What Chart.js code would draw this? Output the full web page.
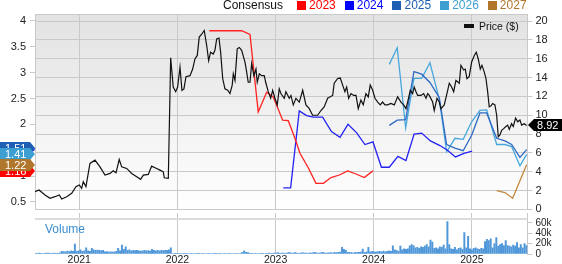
<!DOCTYPE html>
<html>
<head>
<meta charset="utf-8">
<title>Price &amp; Consensus</title>
<script src="https://cdn.jsdelivr.net/npm/chart.js@4.4.1/dist/chart.umd.min.js"></script>
<style>
  html, body { margin: 0; padding: 0; background: #fff; }
  #wrap { position: relative; width: 562px; height: 264px; overflow: hidden;
          font-family: "Liberation Sans", Arial, sans-serif; color: #222; }
  canvas { position: absolute; left: 0; }
  #priceCanvas { top: 0; width: 562px; height: 220px; }
  #volCanvas { top: 205px; width: 562px; height: 59px; }
  #legend { position: absolute; left: 223px; top: -2px; height: 14px; display: flex;
            align-items: center; font-size: 12px; white-space: nowrap; }
  #legend .title { margin-right: 14px; color: #111; }
  #legend .item { display: flex; align-items: center; margin-right: 9px; }
  #legend .item i { display: inline-block; width: 9px; height: 9px; margin-right: 3px; }
  #priceKey { position: absolute; left: 464px; top: 20px; height: 12px; display: flex;
              align-items: center; font-size: 10.5px; color: #111; white-space: nowrap; }
  #priceKey i { display: inline-block; width: 10px; height: 4px; background: #111; margin-right: 5px; }
  #volTitle { position: absolute; left: 45px; top: 223px; font-size: 12px; line-height: 12px; color: #3c8dd0; }
</style>
</head>
<body>
<div id="wrap">
  <canvas id="priceCanvas" width="562" height="220"></canvas>
  <canvas id="volCanvas" width="562" height="59"></canvas>
  <div id="legend"><span class="title">Consensus</span></div>
  <div id="priceKey"><i></i><span>Price ($)</span></div>
  <div id="volTitle">Volume</div>
</div>
<script>
// x range (decimal years)
const xMin = 2020.549, xMax = 2025.566;

// Price ($), weekly-ish closes
const priceX = [
  2020.549, 2020.590, 2020.651, 2020.702, 2020.752, 2020.796, 2020.821, 2020.872, 2020.923, 2020.966,
  2021.000, 2021.024, 2021.041, 2021.068, 2021.109, 2021.160, 2021.211, 2021.262, 2021.313, 2021.346,
  2021.374, 2021.407, 2021.432, 2021.483, 2021.534, 2021.585, 2021.625, 2021.652, 2021.703, 2021.737,
  2021.788, 2021.822, 2021.856, 2021.866, 2021.907, 2021.931, 2021.957, 2021.982, 2022.002, 2022.026,
  2022.046, 2022.066, 2022.087, 2022.128, 2022.155, 2022.179, 2022.202, 2022.222, 2022.247, 2022.273,
  2022.298, 2022.318, 2022.338, 2022.365, 2022.382, 2022.400, 2022.423, 2022.440, 2022.461, 2022.484,
  2022.512, 2022.535, 2022.558, 2022.569, 2022.586, 2022.609, 2022.630, 2022.654, 2022.688, 2022.705,
  2022.721, 2022.739, 2022.756, 2022.779, 2022.800, 2022.813, 2022.834, 2022.858, 2022.884, 2022.899,
  2022.925, 2022.950, 2022.970, 2022.993, 2023.017, 2023.037, 2023.054, 2023.088, 2023.105, 2023.139,
  2023.156, 2023.180, 2023.207, 2023.241, 2023.276, 2023.309, 2023.343, 2023.377, 2023.428, 2023.462,
  2023.496, 2023.530, 2023.581, 2023.597, 2023.632, 2023.659, 2023.683, 2023.706, 2023.724, 2023.744,
  2023.768, 2023.795, 2023.819, 2023.842, 2023.869, 2023.893, 2023.920, 2023.944, 2023.964, 2023.989,
  2024.012, 2024.040, 2024.066, 2024.090, 2024.114, 2024.141, 2024.175, 2024.209, 2024.243, 2024.277,
  2024.304, 2024.328, 2024.345, 2024.372, 2024.396, 2024.412, 2024.430, 2024.447, 2024.481, 2024.508,
  2024.532, 2024.549, 2024.565, 2024.600, 2024.616, 2024.644, 2024.667, 2024.684, 2024.718, 2024.753,
  2024.769, 2024.793, 2024.814, 2024.837, 2024.871, 2024.888, 2024.916, 2024.932, 2024.949, 2024.972,
  2024.997, 2025.024, 2025.044, 2025.064, 2025.085, 2025.102, 2025.125, 2025.143, 2025.160, 2025.176,
  2025.194, 2025.211, 2025.234, 2025.252, 2025.268, 2025.285, 2025.303, 2025.326, 2025.346, 2025.364,
  2025.380, 2025.404, 2025.421, 2025.445, 2025.466, 2025.489, 2025.506, 2025.533, 2025.557
];
const priceY = [
  1.88, 2.06, 1.53, 1.18, 1.35, 1.53, 1.11, 1.35, 1.71, 2.41,
  2.59, 2.24, 2.94, 2.41, 4.88, 5.23, 4.52, 3.64, 3.82, 4.10,
  3.89, 5.30, 4.52, 4.35, 3.82, 3.46, 3.19, 3.64, 3.72, 4.59,
  4.35, 4.17, 3.99, 3.36, 3.29, 16.1, 13.0, 12.5, 13.0, 15.1,
  12.65, 12.8, 14.1, 14.2, 14.9, 16.0, 16.35, 18.3, 18.6, 19.0,
  17.4, 15.8, 16.7, 16.5, 16.9, 18.1, 18.2, 16.7, 13.9, 12.8,
  12.65, 12.3, 13.2, 14.4, 13.7, 17.05, 17.2, 16.9, 15.65, 14.6,
  13.5, 13.5, 15.5, 14.2, 14.9, 13.5, 14.4, 14.2, 14.2, 13.5,
  12.5, 11.8, 12.65, 11.8, 11.1, 12.8, 12.3, 11.8, 12.5, 11.8,
  12.1, 11.1, 11.8, 11.4, 12.65, 11.1, 10.7, 10.0, 10.0, 10.5,
  10.9, 11.8, 12.1, 13.4, 13.9, 13.95, 13.2, 12.5, 13.0, 11.8,
  12.3, 12.1, 12.1, 10.7, 11.6, 11.1, 12.3, 11.95, 13.2, 12.65,
  11.8, 11.4, 11.1, 11.4, 11.1, 11.1, 11.25, 11.1, 11.95, 11.4,
  11.1, 10.7, 11.4, 12.65, 12.3, 13.0, 12.5, 12.1, 12.1, 12.3,
  11.8, 12.3, 12.1, 11.4, 10.5, 11.8, 11.4, 10.7, 11.1, 12.65,
  13.4, 13.0, 12.5, 13.7, 13.4, 15.3, 14.8, 14.9, 13.9, 14.1,
  15.65, 16.35, 16.7, 16.0, 14.9, 15.3, 14.6, 13.9, 12.5, 10.9,
  11.0, 11.25, 11.1, 10.0, 7.7, 7.9, 8.4, 8.6, 8.8, 8.95,
  8.5, 9.1, 8.8, 9.7, 9.3, 9.5, 8.95, 9.1, 8.92
];

// EPS consensus by fiscal year (left axis)
const consYears = ['2023', '2024', '2025', '2026', '2027'];
const cons2023X = [2022.324, 2022.654, 2022.739, 2022.823, 2022.909, 2022.976, 2023.072, 2023.129, 2023.197, 2023.248,
                   2023.330, 2023.411, 2023.487, 2023.564, 2023.650, 2023.734, 2023.819, 2023.903, 2023.992];
const cons2023Y = [3.81, 3.81, 3.74, 2.24, 2.62, 2.53, 2.08, 2.07, 1.73, 1.44,
                   1.17, 0.86, 0.86, 0.97, 1.02, 1.10, 1.04, 0.97, 1.10];
const cons2024X = [2023.078, 2023.153, 2023.241, 2023.316, 2023.384, 2023.479, 2023.569, 2023.656, 2023.737, 2023.824,
                   2023.910, 2023.992, 2024.078, 2024.158, 2024.246, 2024.328, 2024.411, 2024.488, 2024.577, 2024.674,
                   2024.751, 2024.832, 2024.919, 2025.002];
const cons2024Y = [0.77, 0.77, 2.26, 2.17, 2.14, 2.14, 1.86, 1.75, 2.00, 1.84,
                   1.61, 1.66, 1.17, 1.17, 1.38, 1.30, 1.81, 1.83, 1.68, 1.59,
                   1.50, 1.37, 1.44, 1.48];
const cons2025X = [2024.158, 2024.239, 2024.325, 2024.409, 2024.488, 2024.572, 2024.667, 2024.742, 2024.827, 2024.911,
                   2024.997, 2025.082, 2025.150, 2025.252, 2025.336, 2025.404, 2025.489, 2025.557];
const cons2025Y = [1.98, 2.08, 2.09, 3.02, 2.97, 2.81, 2.52, 1.61, 1.54, 1.49,
                   1.79, 2.22, 2.22, 1.73, 1.68, 1.61, 1.36, 1.51];
const cons2026X = cons2025X;
const cons2026Y = [3.16, 3.48, 1.93, 2.89, 2.89, 3.19, 2.49, 1.47, 1.73, 1.71,
                   2.05, 2.27, 2.28, 1.61, 1.61, 1.57, 1.20, 1.42];
const cons2027X = [2025.252, 2025.336, 2025.415, 2025.557];
const cons2027Y = [0.72, 0.68, 0.57, 1.22];
// current consensus shown in the left-hand flags
const consNow = [1.16, 1.48, 1.51, 1.41, 1.22];

// weekly volume (thousands)
const volStart = 2020.553;
const volStep = 7 / 365.25;
const volValues = [
  1.5, 1.2, 1.8, 1.5, 1.0, 1.3, 2.0, 1.6, 1.2, 1.4, 1.8, 1.5, 1.2, 2.2,
  5, 4.5, 4, 5.5, 4.5, 6, 5, 19, 5, 6, 8, 5, 6, 12, 6, 5, 10.7,
  8, 7, 7.5, 7, 6.5, 7, 4, 4.5, 3.5, 4, 3.5, 4, 5, 10.7, 6, 17, 9, 14,
  7, 8, 6, 7, 6.5, 7, 6, 5.5, 6, 7, 6, 6.5, 5.5, 9, 7, 6, 7, 6, 7, 6.5, 7, 7, 8, 12,
  1, 1.2, 0.8, 1, 1.5, 1, 0.8, 1.2, 1, 1, 1.3, 0.9, 1, 1.2, 0.8, 1, 1.1, 1, 0.9, 1.2,
  1, 1, 0.8, 1.3, 1, 1.2, 0.9, 1, 1.1, 1, 1.2, 1, 0.9, 1, 1.4, 1, 1.2, 3, 6, 3,
  2.5, 1.5, 1.2, 1, 1.3, 1, 0.9, 1.2, 1.5, 1, 1.3, 2, 1.5,
  1.5, 2, 1.8, 2.5, 1.5, 2, 1.8, 1.5, 2.2, 3, 2, 1.8, 2.5, 2, 1.5, 2, 2.5, 1.8, 2,
  1.5, 2.2, 2, 3, 2.5, 1.8, 2, 2.5, 3, 2, 1.8, 2.2, 2.5, 2, 3, 2.5, 3, 3.5,
  12.6, 9, 7, 3, 3, 2.5, 2, 3, 2.5, 3, 3.5, 9.5, 3, 4, 12.6,
  4, 5, 4, 3.5, 4.5, 5, 4, 5.5, 4, 5, 6, 5, 15.8, 8, 7, 5, 15, 8, 10, 9, 10,
  15.8, 18, 16, 12, 13, 11, 14, 13, 15, 18, 14, 26.5, 23, 11, 12, 10, 14, 13, 17, 10,
  62.5, 18, 10, 9, 13, 8, 11, 12, 9, 41, 12, 34, 10, 8, 11, 12, 10, 9, 11, 10,
  24, 28, 26, 29, 12, 20, 31.6, 15, 18, 20, 16, 26, 16, 15, 14, 17, 15, 22, 12, 18, 12, 20, 16
];

const legendColors = ['#ff0000', '#0000ff', '#1f5fb3', '#3d9fd1', '#b0762c'];
const lineColors = ['#ff2020', '#2323f5', '#2f69c2', '#46a7dc', '#c3873f'];
const gridColor = '#c9c9c9';

Chart.defaults.font.family = '"Liberation Sans", Arial, sans-serif';
Chart.defaults.color = '#222';

function pts(xs, ys) {
  return xs.map((x, i) => ({ x: x, y: ys[i] }));
}

// legend in the header
const legend = document.getElementById('legend');
consYears.forEach((yr, k) => {
  const item = document.createElement('span');
  item.className = 'item';
  item.innerHTML = '<i style="background:' + legendColors[k] + '"></i><span style="color:' + legendColors[k] + '">' + yr + '</span>';
  legend.appendChild(item);
});

// price pane background + top border
const paneBg = {
  id: 'paneBg',
  beforeDraw(chart) {
    const { ctx, chartArea: a } = chart;
    const g = ctx.createLinearGradient(0, a.top, 0, a.bottom);
    g.addColorStop(0, '#e2e2e2');
    g.addColorStop(1, '#ffffff');
    ctx.save();
    ctx.fillStyle = g;
    ctx.fillRect(a.left, a.top, a.right - a.left, a.bottom - a.top);
    ctx.restore();
  },
  beforeDatasetsDraw(chart) {
    const { ctx, chartArea: a } = chart;
    ctx.save();
    ctx.fillStyle = gridColor;
    ctx.fillRect(a.left, a.top, a.right - a.left, 1);
    ctx.restore();
  }
};

// value flags on both axes
const flagShift = [3, -2, -2, -1, 0];
const valueFlags = {
  id: 'valueFlags',
  afterDraw(chart) {
    const ctx = chart.ctx;
    const yE = chart.scales.yEps, yP = chart.scales.yPrice;
    ctx.save();
    ctx.font = '11px "Liberation Sans", Arial, sans-serif';
    ctx.textBaseline = 'middle';
    consNow.forEach((v, k) => {
      const y = Math.round(yE.getPixelForValue(v)) + flagShift[k];
      ctx.fillStyle = legendColors[k];
      ctx.beginPath();
      ctx.moveTo(0, y - 6);
      ctx.lineTo(30, y - 6);
      ctx.lineTo(35, y);
      ctx.lineTo(30, y + 6);
      ctx.lineTo(0, y + 6);
      ctx.closePath();
      ctx.fill();
      ctx.fillStyle = '#fff';
      ctx.fillText(v.toFixed(2), 5, y + 0.5);
    });
    const last = priceY[priceY.length - 1];
    const py = Math.round(yP.getPixelForValue(last));
    ctx.fillStyle = '#000';
    ctx.beginPath();
    ctx.moveTo(528, py);
    ctx.lineTo(534, py - 6);
    ctx.lineTo(562, py - 6);
    ctx.lineTo(562, py + 6);
    ctx.lineTo(534, py + 6);
    ctx.closePath();
    ctx.fill();
    ctx.fillStyle = '#fff';
    ctx.fillText(last.toFixed(2), 537, py + 0.5);
    ctx.restore();
  }
};

const datasets = [
  { label: 'Price ($)', data: pts(priceX, priceY), yAxisID: 'yPrice', borderColor: '#111', borderWidth: 1.2 }
];
const consX = [cons2023X, cons2024X, cons2025X, cons2026X, cons2027X];
const consY = [cons2023Y, cons2024Y, cons2025Y, cons2026Y, cons2027Y];
consYears.forEach((yr, k) => {
  datasets.push({ label: yr, data: pts(consX[k], consY[k]), yAxisID: 'yEps', borderColor: lineColors[k], borderWidth: 1.3 });
});

new Chart(document.getElementById('priceCanvas'), {
  type: 'line',
  data: { datasets: datasets },
  options: {
    responsive: false, animation: false, devicePixelRatio: 1, events: [],
    elements: { point: { radius: 0 }, line: { tension: 0 } },
    layout: { padding: { top: 14, left: 0, right: 0, bottom: 0 } },
    plugins: { legend: { display: false }, tooltip: { enabled: false } },
    scales: {
      x: {
        type: 'linear', min: xMin, max: xMax, offset: false,
        afterFit: s => { s.height = 8; },
        ticks: { display: false, stepSize: 1, includeBounds: false },
        grid: { color: gridColor, drawTicks: false, offset: false },
        border: { display: false }
      },
      yEps: {
        position: 'left', min: 0.355, max: 4.134,
        afterFit: s => { s.width = 35; },
        ticks: { stepSize: 0.5, includeBounds: false, padding: 4, font: { size: 11 }, autoSkip: false,
                 callback: v => String(+v.toFixed(1)) },
        grid: { drawOnChartArea: false, tickLength: 5, color: gridColor },
        border: { color: gridColor }
      },
      yPrice: {
        position: 'right', min: 0, max: 20.75,
        afterFit: s => { s.width = 34.5; },
        ticks: { stepSize: 2, includeBounds: false, padding: 3, font: { size: 11 }, autoSkip: false },
        grid: { color: gridColor, tickLength: 5 },
        border: { color: gridColor }
      }
    }
  },
  plugins: [paneBg, valueFlags]
});

// volume pane
const volBand = {
  id: 'volBand',
  beforeDatasetsDraw(chart) {
    const { ctx, chartArea: a } = chart;
    ctx.save();
    ctx.fillStyle = '#dcdcdc';
    ctx.fillRect(a.left, a.top + 5, a.right - a.left, 2);
    ctx.restore();
  }
};

new Chart(document.getElementById('volCanvas'), {
  type: 'bar',
  data: {
    datasets: [{
      label: 'Volume',
      data: volValues.map((v, i) => ({ x: volStart + i * volStep, y: v })),
      yAxisID: 'yVol',
      backgroundColor: '#4f97d8',
      barThickness: 1.3
    }]
  },
  options: {
    responsive: false, animation: false, devicePixelRatio: 1, events: [],
    layout: { padding: { top: 7, left: 35, right: 0, bottom: 0 } },
    plugins: { legend: { display: false }, tooltip: { enabled: false } },
    scales: {
      x: {
        type: 'linear', min: xMin, max: xMax, offset: false,
        afterFit: s => { s.height = 10; },
        ticks: { stepSize: 1, includeBounds: false, padding: 0, font: { size: 10.5 }, autoSkip: false,
                 maxRotation: 0, callback: v => String(v) },
        grid: { color: gridColor, drawTicks: false, offset: false },
        border: { display: false }
      },
      yVol: {
        position: 'right', min: 0, max: 78.75,
        afterFit: s => { s.width = 34.5; },
        ticks: { stepSize: 20, includeBounds: false, padding: 3, autoSkip: false,
                 font: { size: 10, lineHeight: 1 },
                 callback: v => v === 0 ? '0' : v + 'k' },
        grid: { drawOnChartArea: false, tickLength: 5, color: gridColor },
        border: { color: gridColor }
      }
    }
  },
  plugins: [volBand]
});
</script>
</body>
</html>
